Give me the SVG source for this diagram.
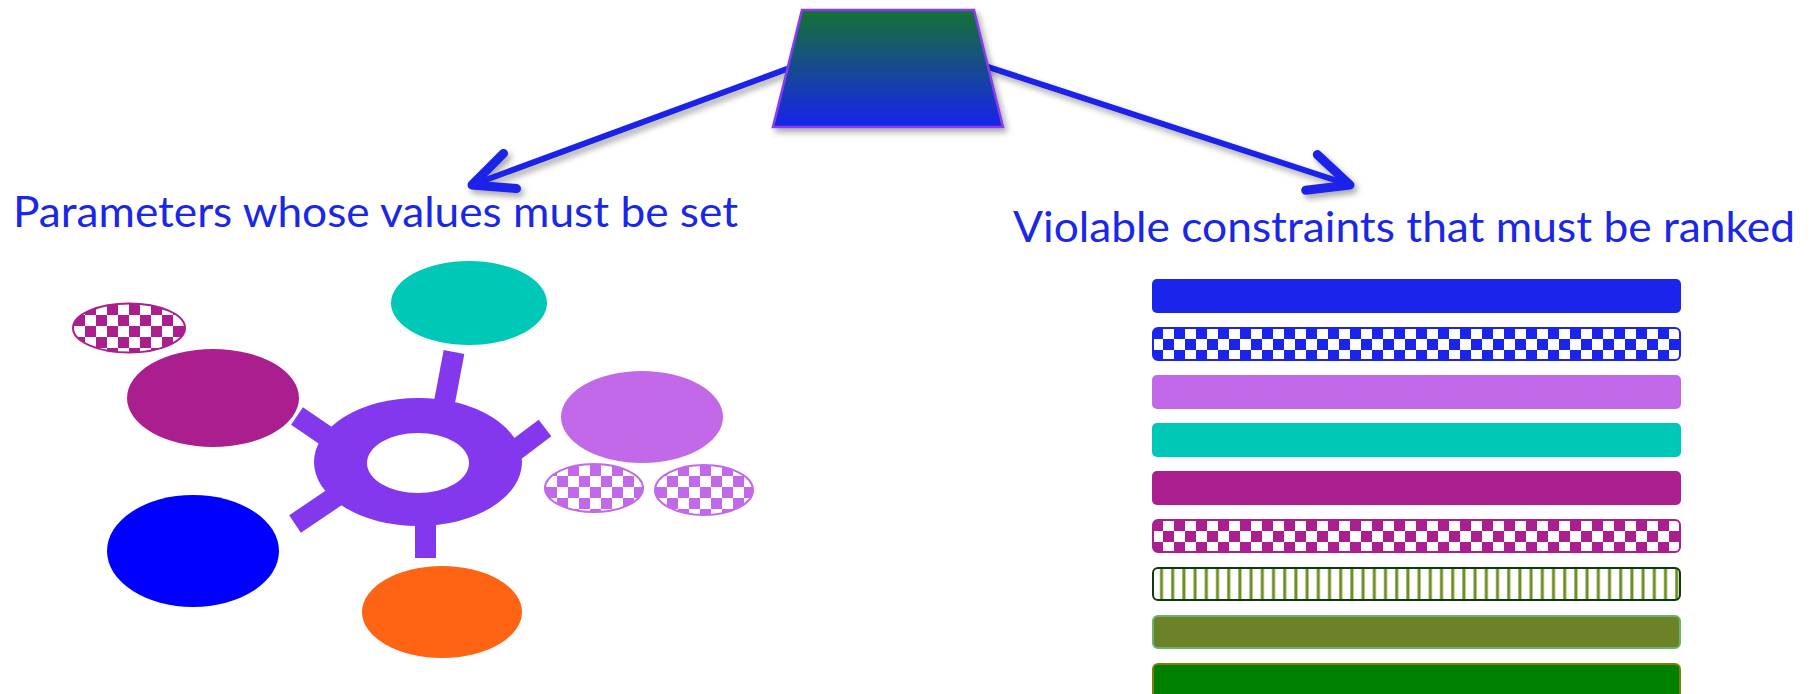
<svg xmlns="http://www.w3.org/2000/svg" width="1815" height="694" viewBox="0 0 1815 694">
<defs>
<style>
.lbl{font-family:Lato,"Open Sans","Liberation Sans",sans-serif;font-size:43px;fill:#1A26E8}
.conn{stroke:#1A22E8;stroke-width:6;fill:none;stroke-linecap:round}
.bar{stroke-width:2}
.spoke{stroke:#8338EE;stroke-width:21;fill:none}
</style>
<linearGradient id="trapGrad" x1="0" y1="0" x2="0" y2="1">
<stop offset="0" stop-color="#137234"/>
<stop offset="1" stop-color="#1723EC"/>
</linearGradient>
<filter id="shadow" x="-20%" y="-20%" width="140%" height="160%">
<feDropShadow dx="3" dy="4" stdDeviation="3" flood-color="#000" flood-opacity="0.35"/>
</filter>
<marker id="vhead" markerUnits="userSpaceOnUse" markerWidth="60" markerHeight="60" refX="0" refY="0" viewBox="-35 -20 40 40" orient="auto" overflow="visible">
<path d="M -27,-12.5 L 0,0 L -27,12.5" fill="none" stroke="#1A22E8" stroke-width="6" stroke-linecap="round" stroke-linejoin="round"/>
</marker>
<pattern id="chkBlue" width="22" height="22" patternUnits="userSpaceOnUse" x="1152" y="328">
<rect width="22" height="22" fill="#fff"/>
<rect width="11" height="11" fill="#1A24EA"/>
<rect x="11" y="11" width="11" height="11" fill="#1A24EA"/>
</pattern>
<pattern id="chkMag" width="22" height="22" patternUnits="userSpaceOnUse" x="1152" y="520">
<rect width="22" height="22" fill="#fff"/>
<rect width="11" height="11" fill="#AB1E8E"/>
<rect x="11" y="11" width="11" height="11" fill="#AB1E8E"/>
</pattern>
<pattern id="chkMagE" width="22" height="22" patternUnits="userSpaceOnUse" x="74" y="304">
<rect width="22" height="22" fill="#fff"/>
<rect x="11" width="11" height="11" fill="#AB1E8E"/>
<rect y="11" width="11" height="11" fill="#AB1E8E"/>
</pattern>
<pattern id="chkLav" width="22" height="22" patternUnits="userSpaceOnUse" x="546" y="465">
<rect width="22" height="22" fill="#fff"/>
<rect width="11" height="11" fill="#C169E8"/>
<rect x="11" y="11" width="11" height="11" fill="#C169E8"/>
</pattern>
<pattern id="stripes" width="11.2" height="40" patternUnits="userSpaceOnUse" x="1156" y="0">
<rect width="11.2" height="40" fill="#fff"/>
<rect x="4" width="3" height="40" fill="#6B8E23"/>
</pattern>
</defs>

<rect width="1815" height="694" fill="#fff"/>

<g id="connectors" filter="url(#shadow)">
<path class="conn" d="M 795,66 L 472,185" marker-end="url(#vhead)"/>
<path class="conn" d="M 982,65 L 1350,185" marker-end="url(#vhead)"/>
</g>

<g id="root-node">
<polygon points="802,10 974,10 1003,127 773,127" fill="url(#trapGrad)" stroke="#8A3CF0" stroke-width="2.5" filter="url(#shadow)"/>
</g>

<g id="label-left">
<text class="lbl" x="13" y="227" textLength="725" lengthAdjust="spacingAndGlyphs">Parameters whose values must be set</text>
</g>
<g id="label-right">
<text class="lbl" x="1013" y="242" textLength="782" lengthAdjust="spacingAndGlyphs">Violable constraints that must be ranked</text>
</g>

<g id="hub">
<line class="spoke" x1="443" y1="410" x2="454" y2="352"/>
<line class="spoke" x1="297" y1="416" x2="338" y2="444"/>
<line class="spoke" x1="295" y1="524" x2="338" y2="495"/>
<line class="spoke" x1="545" y1="428" x2="508" y2="456"/>
<line class="spoke" x1="425.5" y1="510" x2="425.5" y2="558"/>
<path d="M 314,462 A 104,64 0 1 0 522,462 A 104,64 0 1 0 314,462 Z M 367,463 A 51,30 0 1 1 469,463 A 51,30 0 1 1 367,463 Z" fill="#8338EE" fill-rule="evenodd"/>
</g>

<g id="param-teal"><ellipse cx="469" cy="303" rx="78" ry="42" fill="#00C8B6"/></g>
<g id="param-magenta-checker"><ellipse cx="129" cy="328" rx="56" ry="24.5" fill="url(#chkMagE)" stroke="#AB1E8E" stroke-width="2"/></g>
<g id="param-magenta"><ellipse cx="213" cy="398" rx="86" ry="49" fill="#AB1E8E"/></g>
<g id="param-lavender"><ellipse cx="642" cy="417" rx="81" ry="46" fill="#C169E8"/></g>
<g id="param-lavender-checker-1"><ellipse cx="594" cy="488" rx="49" ry="24" fill="url(#chkLav)" stroke="#C169E8" stroke-width="2"/></g>
<g id="param-lavender-checker-2"><ellipse cx="704" cy="490" rx="49" ry="25" fill="url(#chkLav)" stroke="#C169E8" stroke-width="2"/></g>
<g id="param-blue"><ellipse cx="193" cy="551" rx="86" ry="56" fill="#0000FF"/></g>
<g id="param-orange"><ellipse cx="442" cy="612" rx="80" ry="46" fill="#FF6414"/></g>

<g id="constraint-1"><rect class="bar" x="1152" y="279" width="529" height="34" rx="5" fill="#1A24EA"/></g>
<g id="constraint-2"><rect class="bar" x="1153" y="328" width="527" height="32" rx="5" fill="url(#chkBlue)" stroke="#1A24EA"/></g>
<g id="constraint-3"><rect class="bar" x="1152" y="375" width="529" height="34" rx="5" fill="#C169E8"/></g>
<g id="constraint-4"><rect class="bar" x="1152" y="423" width="529" height="34" rx="5" fill="#00C8B6"/></g>
<g id="constraint-5"><rect class="bar" x="1152" y="471" width="529" height="34" rx="5" fill="#AB1E8E"/></g>
<g id="constraint-6"><rect class="bar" x="1153" y="520" width="527" height="32" rx="5" fill="url(#chkMag)" stroke="#AB1E8E"/></g>
<g id="constraint-7"><rect class="bar" x="1153" y="568" width="527" height="32" rx="5" fill="url(#stripes)" stroke="#0B3D0B"/></g>
<g id="constraint-8"><rect class="bar" x="1153" y="616" width="527" height="32" rx="5" fill="#6B8229" stroke="#6DB36A"/></g>
<g id="constraint-9"><rect class="bar" x="1153" y="664" width="527" height="40" rx="5" fill="#008000" stroke="#808000"/></g>
</svg>
